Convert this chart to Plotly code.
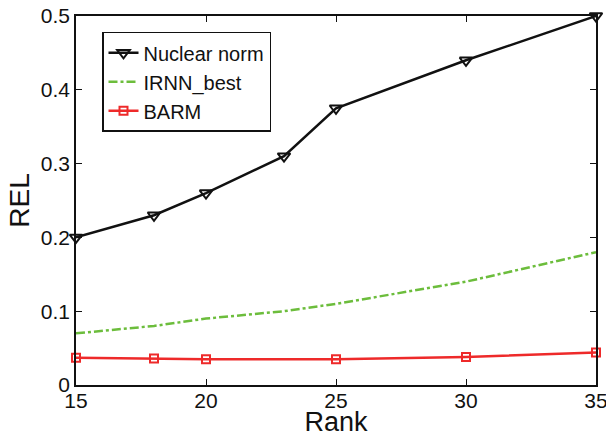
import plotly.graph_objects as go

rank = [15, 18, 20, 23, 25, 30, 35]
nuclear = [0.200, 0.230, 0.260, 0.310, 0.375, 0.440, 0.500]
irnn = [0.070, 0.080, 0.090, 0.100, 0.110, 0.140, 0.180]
barm_x = [15, 18, 20, 25, 30, 35]
barm = [0.037, 0.036, 0.035, 0.035, 0.038, 0.044]

xticks = [15, 20, 25, 30, 35]
yticks = [0, 0.1, 0.2, 0.3, 0.4, 0.5]
ytick_text = ["0", "0.1", "0.2", "0.3", "0.4", "0.5"]

font = "Liberation Sans, Arial, Helvetica, sans-serif"

fig = go.Figure()
fig.add_trace(go.Scatter(
    x=rank, y=nuclear, name="Nuclear norm", mode="lines+markers",
    line=dict(color="#111111", width=2.5),
    marker=dict(symbol="triangle-down-open", size=11, color="#111111", line=dict(width=2)),
    cliponaxis=False,
))
fig.add_trace(go.Scatter(
    x=rank, y=irnn, name="IRNN_best", mode="lines",
    line=dict(color="#6cbd3c", width=2.5, dash="dashdot"),
))
fig.add_trace(go.Scatter(
    x=barm_x, y=barm, name="BARM", mode="lines+markers",
    line=dict(color="#ee2a2a", width=2.5),
    marker=dict(symbol="square-open", size=8, color="#ee2a2a", line=dict(width=2)),
    cliponaxis=False,
))

fig.update_layout(
    width=606, height=437,
    margin=dict(l=76, r=10, t=16, b=52),
    paper_bgcolor="white", plot_bgcolor="white",
    font=dict(family=font, size=21, color="#111111"),
    showlegend=True,
    legend=dict(
        x=0.05, y=0.957, xanchor="left", yanchor="top",
        bgcolor="white", bordercolor="#111111", borderwidth=1.5,
        font=dict(size=20), tracegroupgap=0,
    ),
    xaxis=dict(
        range=[15, 35], tickvals=xticks, ticks="inside", ticklen=6,
        showgrid=False, zeroline=False, showline=True, linecolor="#111111",
        linewidth=1.5, mirror="ticks", tickcolor="#111111", automargin=False,
        ticklabeloverflow="allow", ticklabelstandoff=-4,
        title=dict(text="Rank", font=dict(size=27), standoff=15),
    ),
    yaxis=dict(
        range=[0, 0.5], tickvals=yticks, ticktext=ytick_text, ticks="inside", ticklen=6,
        showgrid=False, zeroline=False, showline=True, linecolor="#111111",
        linewidth=1.5, mirror="ticks", tickcolor="#111111", automargin=False,
        ticklabeloverflow="allow",
        title=dict(text="REL", font=dict(size=28), standoff=3),
    ),
)

fig.write_html("out.html", config={"displayModeBar": False},
               post_script="document.body.style.margin='0';document.body.style.overflow='hidden';")
